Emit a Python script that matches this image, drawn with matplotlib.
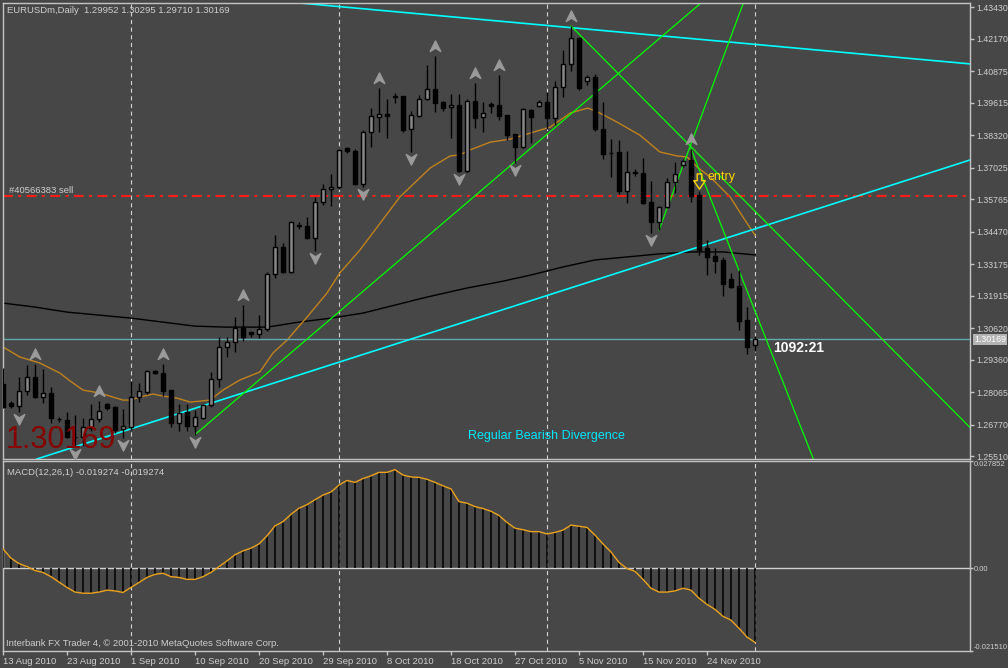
import numpy as np
import matplotlib.pyplot as plt
from matplotlib.path import Path

plt.rcParams["font.family"] = ["Liberation Sans", "DejaVu Sans"]
plt.rcParams["lines.scale_dashes"] = False

BG = "#474747"
FG = "#cfcfcf"

# ===== Data: EURUSDm daily bars, 13 Aug 2010 .. 29 Nov 2010 =====
opens = [1.2839, 1.2763, 1.2750, 1.2811, 1.2867, 1.2787, 1.2803, 1.2701, 1.2695, 1.2629,
         1.2627, 1.2665, 1.2699, 1.2759, 1.2747, 1.2659, 1.2667, 1.2787, 1.2807, 1.2891,
         1.2883, 1.2815, 1.2683, 1.2727, 1.2671, 1.2703, 1.2755, 1.2859, 1.2987, 1.3006,
         1.3062, 1.3046, 1.3038, 1.3058, 1.3278, 1.3386, 1.3286, 1.3472, 1.3469, 1.3421,
         1.3565, 1.3617, 1.3625, 1.3781, 1.3769, 1.3637, 1.3844, 1.3904, 1.3916, 1.3986,
         1.3988, 1.3856, 1.3908, 1.3976, 1.4016, 1.3964, 1.3944, 1.3952, 1.3689, 1.3968,
         1.3904, 1.3956, 1.3952, 1.3912, 1.3836, 1.3785, 1.3932, 1.3948, 1.3964, 1.3900,
         1.4024, 1.4116, 1.4219, 1.4048, 1.4064, 1.3856, 1.3759, 1.3765, 1.3609, 1.3683,
         1.3681, 1.3565, 1.3485, 1.3545, 1.3645, 1.3713, 1.3733, 1.3593, 1.3382, 1.3350,
         1.3334, 1.3258, 1.3230, 1.3094, 1.29952]
highs = [1.2903, 1.2771, 1.2867, 1.2915, 1.2919, 1.2899, 1.2827, 1.2707, 1.2727, 1.2715,
         1.2703, 1.2759, 1.2771, 1.2763, 1.2751, 1.2739, 1.2851, 1.2843, 1.2895, 1.2895,
         1.2919, 1.2817, 1.2759, 1.2759, 1.2735, 1.2759, 1.2887, 1.3026, 1.3026, 1.3106,
         1.3154, 1.3048, 1.3114, 1.3286, 1.3433, 1.3402, 1.3489, 1.3485, 1.3505, 1.3585,
         1.3637, 1.3677, 1.3777, 1.3783, 1.3777, 1.3852, 1.3940, 1.4020, 1.3976, 1.4000,
         1.3990, 1.3928, 1.3992, 1.4112, 1.4148, 1.3968, 1.3996, 1.3996, 1.3976, 1.4040,
         1.3964, 1.3964, 1.4072, 1.3914, 1.3838, 1.3940, 1.3936, 1.3972, 1.4004, 1.4048,
         1.4172, 1.4267, 1.4223, 1.4072, 1.4076, 1.3964, 1.3816, 1.3812, 1.3769, 1.3697,
         1.3741, 1.3649, 1.3549, 1.3661, 1.3725, 1.3737, 1.3777, 1.3609, 1.3413, 1.3382,
         1.3346, 1.3282, 1.3294, 1.3146, 1.30295]
lows = [1.2743, 1.2745, 1.2727, 1.2795, 1.2783, 1.2763, 1.2683, 1.2687, 1.2623, 1.2588,
        1.2592, 1.2651, 1.2687, 1.2735, 1.2643, 1.2623, 1.2655, 1.2767, 1.2799, 1.2879,
        1.2791, 1.2667, 1.2651, 1.2651, 1.2635, 1.2699, 1.2747, 1.2827, 1.2947, 1.2967,
        1.3010, 1.3026, 1.3022, 1.3050, 1.3262, 1.3282, 1.3282, 1.3457, 1.3417, 1.3370,
        1.3553, 1.3549, 1.3617, 1.3761, 1.3633, 1.3625, 1.3785, 1.3844, 1.3820, 1.3960,
        1.3844, 1.3765, 1.3904, 1.3972, 1.3924, 1.3928, 1.3820, 1.3685, 1.3685, 1.3860,
        1.3844, 1.3920, 1.3892, 1.3812, 1.3721, 1.3781, 1.3800, 1.3944, 1.3856, 1.3872,
        1.3984, 1.4088, 1.4012, 1.4032, 1.3848, 1.3737, 1.3665, 1.3597, 1.3561, 1.3669,
        1.3557, 1.3441, 1.3453, 1.3541, 1.3601, 1.3705, 1.3565, 1.3354, 1.3274, 1.3282,
        1.3190, 1.3222, 1.3054, 1.2959, 1.29710]
closes = [1.2747, 1.2750, 1.2811, 1.2867, 1.2787, 1.2803, 1.2703, 1.2699, 1.2627, 1.2627,
          1.2667, 1.2699, 1.2731, 1.2743, 1.2655, 1.2671, 1.2787, 1.2811, 1.2891, 1.2883,
          1.2811, 1.2683, 1.2723, 1.2671, 1.2707, 1.2755, 1.2859, 1.2987, 1.3006, 1.3062,
          1.3026, 1.3038, 1.3058, 1.3278, 1.3386, 1.3286, 1.3485, 1.3469, 1.3421, 1.3565,
          1.3617, 1.3625, 1.3773, 1.3769, 1.3637, 1.3844, 1.3908, 1.3916, 1.3910, 1.3988,
          1.3852, 1.3912, 1.3976, 1.4016, 1.3960, 1.3940, 1.3952, 1.3689, 1.3968, 1.3900,
          1.3920, 1.3948, 1.3908, 1.3832, 1.3785, 1.3936, 1.3904, 1.3964, 1.3900, 1.4024,
          1.4116, 1.4219, 1.4020, 1.4064, 1.3856, 1.3757, 1.3761, 1.3609, 1.3685, 1.3681,
          1.3561, 1.3485, 1.3545, 1.3645, 1.3677, 1.3729, 1.3589, 1.3374, 1.3346, 1.3330,
          1.3238, 1.3226, 1.3090, 1.2987, 1.30169]

# MACD(12,26,1) histogram values, one per bar
macd = [0.0050, 0.0026, 0.0012, 0.0004, -0.0006, -0.0011, -0.0022, -0.0036, -0.0050, -0.0062,
        -0.0065, -0.0065, -0.0062, -0.0057, -0.0059, -0.0063, -0.0050, -0.0037, -0.0024, -0.0016,
        -0.0013, -0.0022, -0.0024, -0.0029, -0.0029, -0.0022, -0.0011, 0.0004, 0.0019, 0.0035,
        0.0045, 0.0052, 0.0063, 0.0084, 0.0110, 0.0121, 0.0140, 0.0156, 0.0165, 0.0178,
        0.0190, 0.0198, 0.0216, 0.0228, 0.0223, 0.0233, 0.0240, 0.0249, 0.0249, 0.0256,
        0.0242, 0.0237, 0.0236, 0.0231, 0.0223, 0.0214, 0.0206, 0.0173, 0.0169, 0.0160,
        0.0155, 0.0148, 0.0137, 0.0119, 0.0104, 0.0100, 0.0095, 0.0095, 0.0089, 0.0093,
        0.0099, 0.0112, 0.0109, 0.0106, 0.0086, 0.0063, 0.0042, 0.0015, -0.0001, -0.0008,
        -0.0029, -0.0052, -0.0062, -0.0062, -0.0059, -0.0052, -0.0057, -0.0078, -0.0094, -0.0107,
        -0.0125, -0.0135, -0.0156, -0.0179, -0.019274]

# moving averages (bar position, price)
ma_fast_bar = [0, 2.1, 4.6, 7.1, 8.4, 10, 12.1, 13.75, 15, 15.9, 17.1, 18.75, 20, 21.75, 23.4,
               25.9, 27.5, 29.6, 32.1, 33.75, 35.5, 38, 40.5, 42.1, 44.6, 49.6, 53.4, 55.9,
               57.1, 58.4, 60.9, 63.4, 65.9, 68.4, 70.9, 73.1, 74.6, 76.75, 79.6, 82.1, 84.25,
               85.5, 86.75, 88.4, 90.9, 92.5, 94]
ma_fast = [1.2987, 1.2947, 1.2923, 1.2883, 1.2851, 1.2815, 1.2803, 1.2787, 1.2775, 1.2775,
           1.2787, 1.2799, 1.2791, 1.2783, 1.2767, 1.2775, 1.2815, 1.2855, 1.2887, 1.2963,
           1.3014, 1.3106, 1.3202, 1.3282, 1.3373, 1.3585, 1.3701, 1.3749, 1.3753, 1.3773,
           1.3804, 1.3816, 1.3840, 1.3864, 1.3920, 1.3940, 1.3920, 1.3884, 1.3832, 1.3765,
           1.3749, 1.3745, 1.3705, 1.3665, 1.3585, 1.3505, 1.3433]
ma_slow_bar = [0, 4, 8, 12, 16, 20, 24, 28, 33, 37, 41, 45, 49, 53, 58, 62, 66, 70, 74, 78,
               82, 86, 90, 94]
ma_slow = [1.3162, 1.3146, 1.3126, 1.3114, 1.3102, 1.3086, 1.3070, 1.3066, 1.3066, 1.3086,
           1.3102, 1.3122, 1.3154, 1.3186, 1.3222, 1.3246, 1.3274, 1.3306, 1.3334, 1.3346,
           1.3358, 1.3366, 1.3366, 1.3354]

# fractals
fractal_up = [4, 12, 20, 30, 47, 54, 59, 62, 71, 86]
fractal_down = [2, 9, 15, 24, 39, 45, 51, 57, 64, 81]

# trend lines: (bar, price) pairs
cyan_lines = [((37.1, 1.4359), (120.9, 1.4116)),
              ((40.9, 1.2915), (120.9, 1.3733))]
green_rays = [((24, 1.2637), (87.1, 1.4355)),
              ((71, 1.4267), (120.9, 1.2665)),
              ((86, 1.3777), (101.25, 1.2544)),
              ((82, 1.3453), (92.5, 1.4355))]

sell_price = 1.3588
bid = 1.30169
entry_bar, entry_price = 87, 1.3650

date_bars = [0, 8, 16, 24, 32, 40, 48, 56, 64, 72, 80, 88]
date_labels = ["13 Aug 2010", "23 Aug 2010", "1 Sep 2010", "10 Sep 2010", "20 Sep 2010",
               "29 Sep 2010", "8 Oct 2010", "18 Oct 2010", "27 Oct 2010", "5 Nov 2010",
               "15 Nov 2010", "24 Nov 2010"]
price_ticks = [1.43430, 1.42170, 1.40875, 1.39615, 1.38320, 1.37025, 1.35765, 1.34470,
               1.33175, 1.31915, 1.30620, 1.29360, 1.28065, 1.26770, 1.25510]
grid_bars = [16, 42, 68, 94]

# ===== Figure =====
W, H = 1008, 668
fig = plt.figure(figsize=(W / 100, H / 100), dpi=100, facecolor=BG)
ax = fig.add_axes([3 / W, 1 - 459 / H, 967 / W, 456 / H])
ax2 = fig.add_axes([3 / W, 1 - 651 / H, 967 / W, 190 / H])

for a in (ax, ax2):
    a.set_facecolor(BG)
    for s in a.spines.values():
        s.set_color("#c4c4c4")
        s.set_linewidth(1)
    a.set_xlim(0, 120.875)
    for b in grid_bars:
        a.axvline(b, color="#d4d4d4", lw=0.8, ls=(0, (3, 2.5)), zorder=1)

ax.set_ylim(1.2540, 1.4359)
ax2.set_ylim(-0.021510, 0.027852)

idx = np.arange(len(closes))
o, h, l, c = map(np.array, (opens, highs, lows, closes))

# moving averages
ax.plot(ma_slow_bar, ma_slow, color="black", lw=1, zorder=2)
ax.plot(ma_fast_bar, ma_fast, color="#c0821c", lw=1, zorder=2)

# horizontal lines
ax.axhline(bid, color="#62a8b0", lw=1, zorder=2)
ax.axhline(sell_price + 0.0005, color="#2fbf2f", lw=0.8, ls=(0, (7, 4, 2, 4)), zorder=2)
ax.axhline(sell_price, color="#ff1a1a", lw=1.5, ls=(0, (7, 4, 2, 4)), zorder=2)

# trend lines
for p1, p2 in cyan_lines:
    ax.axline(p1, p2, color="#00ffff", lw=1.2, zorder=2)
for (x1, y1), (x2, y2) in green_rays:
    k = (y2 - y1) / (x2 - x1)
    ax.plot([x1, x1 + 80], [y1, y1 + 80 * k], color="#00ff00", lw=0.9, zorder=2)

# candles
bull = c >= o
ax.vlines(idx, l, h, color="black", lw=1, zorder=3)
ax.bar(idx, np.maximum(np.abs(c - o), 0.00003), bottom=np.minimum(o, c), width=0.62,
       color=np.where(bull, "#858585", "black"), edgecolor="black", linewidth=1, zorder=4)

# fractal arrows
up_arrow = Path([(0, 1), (0.95, -0.9), (0, -0.3), (-0.95, -0.9), (0, 1)],
                [Path.MOVETO, Path.LINETO, Path.LINETO, Path.LINETO, Path.CLOSEPOLY])
down_arrow = Path([(0, -1), (0.95, 0.9), (0, 0.3), (-0.95, 0.9), (0, -1)],
                  [Path.MOVETO, Path.LINETO, Path.LINETO, Path.LINETO, Path.CLOSEPOLY])
ax.plot(fractal_up, h[fractal_up] + 0.0040, ls="none", marker=up_arrow, ms=8,
        color="#9a9a9a", zorder=5)
ax.plot(fractal_down, l[fractal_down] - 0.0029, ls="none", marker=down_arrow, ms=8,
        color="#9a9a9a", zorder=5)

# entry arrow
entry_mark = Path([(-0.3, 1), (0.3, 1), (0.3, 0.1), (0.75, 0.1), (0, -1), (-0.75, 0.1),
                   (-0.3, 0.1), (-0.3, 1)],
                  [Path.MOVETO] + [Path.LINETO] * 6 + [Path.CLOSEPOLY])
ax.plot([entry_bar], [entry_price], marker=entry_mark, ms=11, mfc="none", mec="#ffd700",
        mew=1, zorder=6)
ax.text(entry_bar + 1.1, entry_price + 0.0014, "entry", color="#ffd700", fontsize=9,
        va="center", ha="left", zorder=6)

# texts on main chart
ax.text(0.004, 0.9846, "EURUSDm,Daily  1.29952 1.30295 1.29710 1.30169",
        transform=ax.transAxes, color=FG, fontsize=6.8, va="center", ha="left")
ax.annotate("#40566383 sell", xy=(0.006, sell_price), xycoords=("axes fraction", "data"),
            xytext=(0, 4.5), textcoords="offset points", color=FG, fontsize=6.8,
            va="center", ha="left")
ax.text(0.003, 0.024, "1.30169", transform=ax.transAxes, color="#860000", fontsize=22,
        va="baseline", ha="left", zorder=7)
ax.text(67.9, 1.2631, "Regular Bearish Divergence", color="#00e8ff", fontsize=9,
        va="center", ha="center")
ax.text(96.25, 1.2983, "1092:21", color="white", fontsize=10, fontweight="bold",
        va="center", ha="left", zorder=6)

# price axis
ax.set_xticks([])
ax.yaxis.tick_right()
ax.set_yticks(price_ticks)
ax.set_yticklabels([f"{p:.5f}" for p in price_ticks])
ax.tick_params(axis="y", colors="#c4c4c4", labelcolor=FG, labelsize=6.3, length=3,
               width=1, pad=1.5)
ax.annotate(f"{bid:.5f}", xy=(1, bid), xycoords=("axes fraction", "data"),
            xytext=(3, 0), textcoords="offset points", color="white", fontsize=6.3,
            va="center", ha="left",
            bbox=dict(boxstyle="square,pad=0.15", fc="#b4b4b4", ec="none"))

# ===== MACD panel =====
ax2.axhline(0, color="#d0d0d0", lw=1, zorder=2)
ax2.vlines(idx, 0, macd, color="black", lw=1.1, zorder=3)
ax2.plot(idx, macd, color="#eba21c", lw=1, zorder=4)
ax2.text(0.004, 0.942, "MACD(12,26,1) -0.019274 -0.019274", transform=ax2.transAxes,
         color=FG, fontsize=6.8, va="center", ha="left")
ax2.text(0.003, 0.042, "Interbank FX Trader 4, \u00a9 2001-2010 MetaQuotes Software Corp.",
         transform=ax2.transAxes, color=FG, fontsize=6.8, va="center", ha="left")

ax2.yaxis.tick_right()
ax2.set_yticks([0.027852, 0.0, -0.021510])
ax2.set_yticklabels(["0.027852", "0.00", "-0.021510"])
ax2.tick_params(axis="y", colors="#c4c4c4", labelcolor=FG, labelsize=5.5, length=2,
                width=1, pad=0.8)
tl = ax2.get_yticklabels()
tl[0].set_va("top")
tl[2].set_va("bottom")

ax2.set_xticks(date_bars)
ax2.set_xticklabels(date_labels)
ax2.tick_params(axis="x", colors="#c4c4c4", labelcolor=FG, labelsize=6.8, length=3,
                width=1, pad=1.5)
for t in ax2.get_xticklabels():
    t.set_ha("left")

fig.savefig("out.png", dpi=100, facecolor=BG)
